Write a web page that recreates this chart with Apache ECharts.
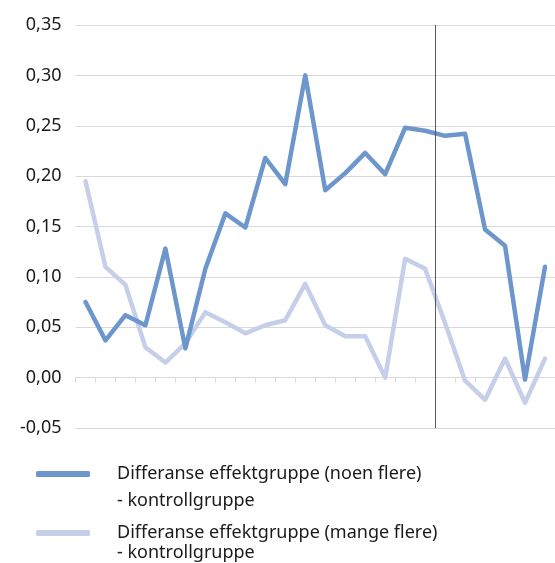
<!DOCTYPE html>
<html><head><meta charset="utf-8">
<script src="https://cdn.jsdelivr.net/npm/echarts@6/dist/echarts.min.js"></script>
<style>html,body{margin:0;padding:0;background:#fff}#c{width:555px;height:563px}</style>
</head><body><div id="c"></div>
<script>
const categories = ['1','2','3','4','5','6','7','8','9','10','11','12','13','14','15','16','17','18','19','20','21','22','23','24'];
const noenFlere = [0.075,0.037,0.062,0.052,0.128,0.029,0.108,0.163,0.149,0.218,0.192,0.300,0.186,0.203,0.223,0.202,0.248,0.245,0.240,0.242,0.147,0.131,-0.002,0.110];
const mangeFlere = [0.195,0.110,0.092,0.030,0.015,0.034,0.065,0.055,0.044,0.052,0.057,0.093,0.052,0.041,0.041,0.000,0.118,0.108,0.054,-0.003,-0.022,0.019,-0.025,0.019];
const seriesNames = ['Differanse effektgruppe (noen flere)\n- kontrollgruppe','Differanse effektgruppe (mange flere)\n- kontrollgruppe'];
const dividerAt = 18;
const yTicks = {min:-0.05,max:0.35,interval:0.05};

const chart = echarts.init(document.getElementById('c'));
const font = 'Noto Sans';
chart.setOption({
  animation:false,
  grid:{left:75.5,top:25,width:482.5,height:403},
  xAxis:[{
    type:'category',data:categories,boundaryGap:true,
    axisLine:{onZero:true,lineStyle:{color:'#d9d9d9',width:1}},
    axisTick:{show:true,interval:0,length:5,lineStyle:{color:'#d9d9d9'}},
    axisLabel:{show:false},splitLine:{show:false}
  },{
    type:'value',min:0,max:categories.length,show:false,splitLine:{show:false}
  }],
  yAxis:{
    type:'value',min:yTicks.min,max:yTicks.max,interval:yTicks.interval,
    axisLine:{show:false},axisTick:{show:false},
    axisLabel:{margin:14,color:'#1a1a1a',fontFamily:font,fontSize:18,
      formatter:v=>v.toFixed(2).replace('.',',')},
    splitLine:{lineStyle:{color:'#d9d9d9',width:1}}
  },
  legend:[{
    data:[seriesNames[0]],left:31,top:428.5,orient:'vertical',
    icon:'roundRect',itemWidth:54,itemHeight:6,
    formatter:n=>' \n'+n,
    textStyle:{fontFamily:font,fontSize:18,color:'#1a1a1a',lineHeight:27,padding:[0,0,0,22]}
  },{
    data:[seriesNames[1]],left:31,top:498,orient:'vertical',
    icon:'roundRect',itemWidth:54,itemHeight:6,
    formatter:n=>' \n'+n,
    textStyle:{fontFamily:font,fontSize:18,color:'#1a1a1a',lineHeight:20,padding:[0,0,0,22]}
  }],
  series:[{
    name:seriesNames[0],type:'line',data:noenFlere,showSymbol:false,
    lineStyle:{color:'#6d97cc',width:4.5,join:'round',cap:'round'},itemStyle:{color:'#6d97cc'},z:3
  },{
    name:seriesNames[1],type:'line',data:mangeFlere,showSymbol:false,
    lineStyle:{color:'#c6cfea',width:4.5,join:'round',cap:'round'},itemStyle:{color:'#c6cfea'},z:2
  },{
    type:'line',xAxisIndex:1,data:[],silent:true,
    markLine:{silent:true,symbol:'none',label:{show:false},
      lineStyle:{color:'#595959',width:1,type:'solid'},
      data:[{xAxis:dividerAt}]},z:4
  }]
});
</script></body></html>
